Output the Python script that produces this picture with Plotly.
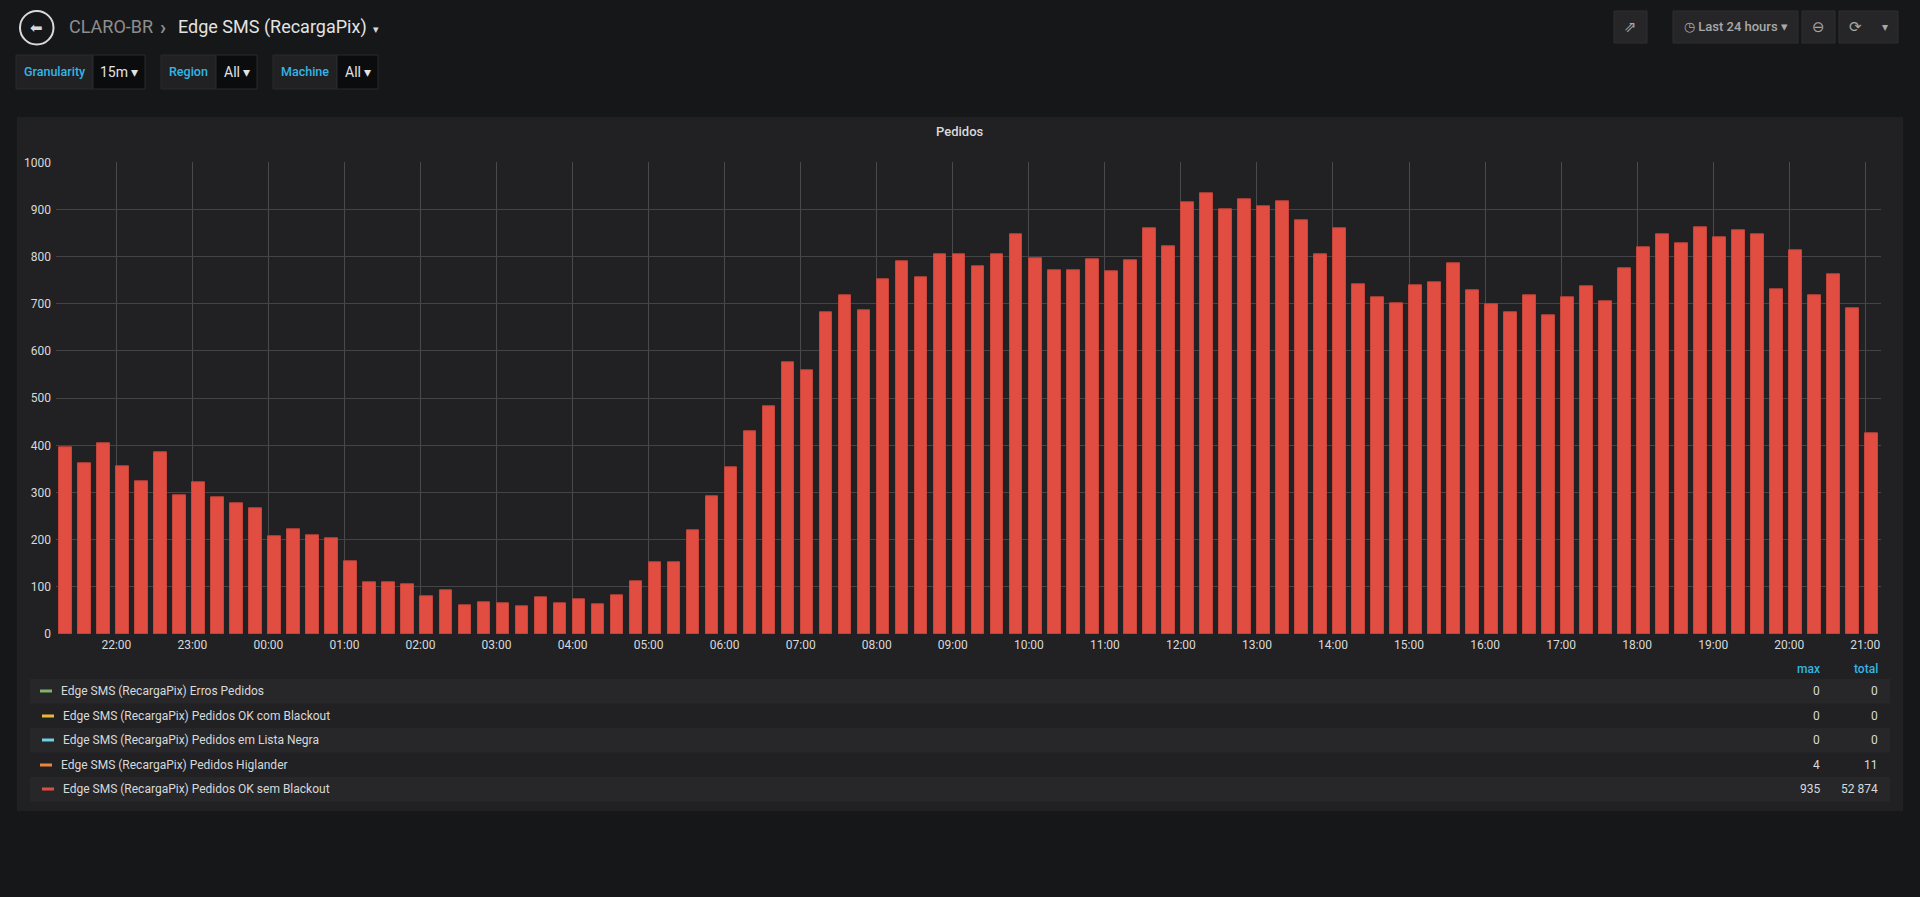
import pandas as pd
import plotly.graph_objects as go

W, H = 1920, 897

# 15 minute buckets, last 24 hours
times = pd.date_range("2024-05-13 21:15", periods=96, freq="15min")

ok_sem_blackout = [
    396, 361, 404,
    355, 324, 385, 295,
    322, 290, 278, 266,
    207, 223, 210, 203,
    155, 110, 109, 105,
    79, 92, 61, 68,
    66, 59, 78, 66,
    73, 64, 82, 112,
    153, 152, 219, 291,
    354, 430, 483, 577,
    560, 681, 719, 686,
    751, 790, 756, 806,
    805, 780, 804, 848,
    796, 770, 770, 794,
    769, 792, 860, 822,
    915, 935, 900, 922,
    906, 917, 876, 806,
    860, 741, 714, 701,
    739, 746, 785, 729,
    700, 683, 718, 676,
    714, 738, 705, 775,
    819, 847, 828, 862,
    841, 856, 847, 731,
    814, 718, 762, 691,
    426,
]

legend_names = [
    "Edge SMS (RecargaPix) Erros Pedidos",
    "Edge SMS (RecargaPix) Pedidos OK com Blackout",
    "Edge SMS (RecargaPix) Pedidos em Lista Negra",
    "Edge SMS (RecargaPix) Pedidos Higlander",
    "Edge SMS (RecargaPix) Pedidos OK sem Blackout",
]
legend_colors = ["#7eb26d", "#eab839", "#6ed0e0", "#ef843c", "#e24d42"]
legend_max = [0, 0, 0, 4, 935]
legend_total = [0, 0, 0, 11, 52874]

y_ticks = list(range(0, 1001, 100))

TEXT = "#d8d9da"
BLUE = "#33b5e5"
PANEL = "#212124"
BODY = "#161719"


def px(x):
    return x / W


def py(y):
    return 1 - y / H


fig = go.Figure()

fig.add_trace(go.Bar(
    x=times, y=ok_sem_blackout, name=legend_names[4],
    width=600000, offset=0,
    marker=dict(color="#e24d42", line=dict(color="#c5453b", width=1)),
    showlegend=False,
))

shapes = []
ann = []


def rect(x0, y0, x1, y1, fill, line=None, layer="below"):
    shapes.append(dict(type="rect", xref="paper", yref="paper",
                       x0=px(x0), x1=px(x1), y0=py(y1), y1=py(y0),
                       fillcolor=fill, layer=layer,
                       line=dict(width=1 if line else 0, color=line or fill)))


def text(x, y, s, size=12, color=TEXT, anchor="left", weight=None, family="Roboto"):
    f = dict(family=family, size=size, color=color)
    if weight:
        f["weight"] = weight
    ann.append(dict(xref="paper", yref="paper", x=px(x), y=py(y), text=s,
                    showarrow=False, xanchor=anchor, yanchor="middle", font=f))


# panel
rect(17, 117, 1903, 811, PANEL)

# header
shapes.append(dict(type="circle", xref="paper", yref="paper",
                   x0=px(20), x1=px(53.5), y0=py(44.5), y1=py(11),
                   line=dict(color=TEXT, width=2)))
text(36.5, 27.5, "⬅", size=15, anchor="center", family="DejaVu Sans")
text(67, 27, "CLARO-BR", size=18, color="#8e8e8e")
text(163, 27, "<b>›</b>", size=20, color="#8e8e8e", anchor="center")
text(176, 27, "Edge SMS (RecargaPix)", size=18, color="#e3e3e3")
text(376, 29, "▾", size=11, anchor="center")

# template variables
variables = [("Granularity", "15m", 16, 93, 145),
             ("Region", "All", 161, 216, 257),
             ("Machine", "All", 273, 337, 378)]
for label, value, x0, x1, x2 in variables:
    rect(x0, 55, x1, 89, "#212124", line="#2b2b2e")
    rect(x1, 55, x2, 89, "#0b0c0e", line="#2b2b2e")
    text((x0 + x1) / 2, 72, label, size=12.5, color=BLUE, anchor="center", weight=500)
    text((x1 + x2) / 2, 72, value + " ▾", size=14, color="#e3e3e3", anchor="center")

# top right buttons
btn = "#262628"
rect(1614, 11, 1647, 43, btn, line="#2f2f32")
text(1630.5, 27, "⇗", size=15, color="#a8a8a8", anchor="center", family="DejaVu Sans")
rect(1673, 11, 1798, 43, btn, line="#2f2f32")
text(1735.5, 27, "◷ Last 24 hours ▾", size=13, color="#a8a8a8", anchor="center", weight=500)
rect(1802, 11, 1835, 43, btn, line="#2f2f32")
text(1818.5, 27, "⊖", size=15, color="#a8a8a8", anchor="center", family="DejaVu Sans")
rect(1839, 11, 1898, 43, btn, line="#2f2f32")
text(1855, 27, "⟳", size=15, color="#a8a8a8", anchor="center", family="DejaVu Sans")
text(1884.5, 27, "▾", size=12, color="#a8a8a8", anchor="center")

# panel title
text(960, 131, "Pedidos", size=13, anchor="center", weight=500)

# legend table
text(1821.7, 669, "max", size=12, color=BLUE, anchor="right", weight=500)
text(1880, 669, "total", size=12, color=BLUE, anchor="right", weight=500)
row_tops = [679, 704, 728, 753, 777]
for i, name in enumerate(legend_names):
    top = row_tops[i]
    cy = top + 12
    if i % 2 == 0:
        rect(30, top, 1890, top + 24.5, "#27272a")
    dx = 0 if i in (0, 3) else 2
    rect(40 + dx, cy - 1.5, 52 + dx, cy + 1.5, legend_colors[i], layer="above")
    text(59 + dx, cy, name, size=12)
    text(1821.7, cy, str(legend_max[i]), size=12, anchor="right")
    text(1880, cy, f"{legend_total[i]:,}".replace(",", " "), size=12, anchor="right")

fig.update_layout(
    width=W, height=H, autosize=False,
    margin=dict(l=0, r=0, t=0, b=0, pad=0),
    paper_bgcolor=BODY, plot_bgcolor=PANEL,
    font=dict(family="Roboto", size=12, color=TEXT),
    shapes=shapes, annotations=ann,
    bargap=0, showlegend=False,
    xaxis=dict(
        domain=[px(56), px(1881)],
        type="date", automargin=False,
        range=["2024-05-13 21:12:24", "2024-05-14 21:12:24"],
        dtick=3600000, tick0="2024-05-13 22:00", tickformat="%H:%M",
        showgrid=True, gridcolor="#4a4a4d", gridwidth=1,
        zeroline=False, showline=False, ticks="",
        tickfont=dict(family="Roboto", size=12, color=TEXT),
        ticklabelstandoff=2,
    ),
    yaxis=dict(
        domain=[py(634), py(162.3)], automargin=False,
        range=[0, 1000], tickvals=y_ticks,
        showgrid=True, gridcolor="#444447", gridwidth=1,
        zeroline=False, showline=False, ticks="",
        tickfont=dict(family="Roboto", size=12, color=TEXT),
        ticklabelstandoff=4,
    ),
)

fig.write_html("out.html", config={"displayModeBar": False}, post_script=(
    "document.body.style.margin='0';"
    "document.body.style.background='#161719';"
    "document.body.style.overflow='hidden';"
))
